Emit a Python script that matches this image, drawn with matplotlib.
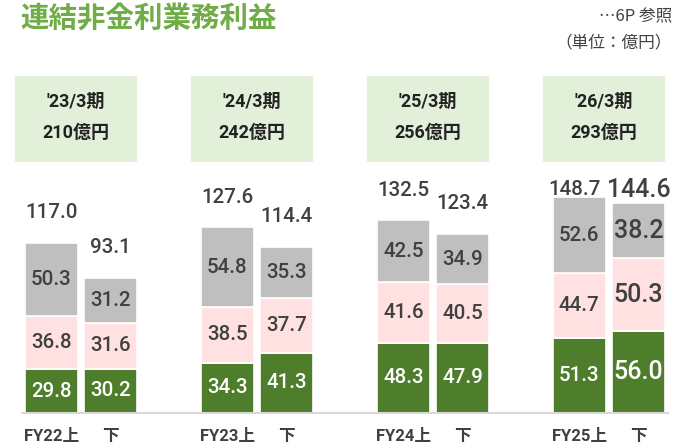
import matplotlib.pyplot as plt
import matplotlib.patches as mpatches
from matplotlib.transforms import blended_transform_factory
import numpy as np

plt.rcParams['font.family'] = ['Roboto', 'Noto Sans CJK JP', 'DejaVu Sans']

# data (億円)
periods = ["'23/3期", "'24/3期", "'25/3期", "'26/3期"]
period_totals = ["210億円", "242億円", "256億円", "293億円"]
cats = ["FY22上", "下", "FY23上", "下", "FY24上", "下", "FY25上", "下"]
green = [29.8, 30.2, 34.3, 41.3, 48.3, 47.9, 51.3, 56.0]
pink = [36.8, 31.6, 38.5, 37.7, 41.6, 40.5, 44.7, 50.3]
gray = [50.3, 31.2, 54.8, 35.3, 42.5, 34.9, 52.6, 38.2]
totals = [117.0, 93.1, 127.6, 114.4, 132.5, 123.4, 148.7, 144.6]

c_green = '#4e7d2c'
c_pink = '#ffe1e1'
c_gray = '#bfbfbf'
c_text = '#404040'

W, H = 679, 446
fig = plt.figure(figsize=(W / 100, H / 100), dpi=100)
base = 412.7
scale = 1.452  # px per unit
ymax = 160
ax = fig.add_axes([22 / W, (H - base) / H, (668 - 22) / W, ymax * scale / H])
ax.patch.set_alpha(0)

grp = np.arange(4)
xs = np.ravel(np.column_stack([grp - 0.168, grp + 0.168]))
bw = 0.30
g = np.array(green)
p = np.array(pink)
gr = np.array(gray)

ax.bar(xs, g, bw, color=c_green, edgecolor='white', linewidth=1.2)
ax.bar(xs, p, bw, bottom=g, color=c_pink, edgecolor='white', linewidth=1.2)
ax.bar(xs, gr, bw, bottom=g + p, color=c_gray, edgecolor='white', linewidth=1.2)

ax.set_xlim(-0.335, 3.336)
ax.set_ylim(0, ymax)
for s in ['top', 'right', 'left']:
    ax.spines[s].set_visible(False)
ax.spines['bottom'].set_color('#d9d9d9')
ax.spines['bottom'].set_linewidth(1.5)
ax.set_yticks([])
ax.set_xticks([])

cap = 153.4
for i, x in enumerate(xs):
    big = i == len(xs) - 1
    fs = 18 if big else 14.8
    wt = 'medium'
    ax.text(x, g[i] / 2, f'{g[i]:.1f}', ha='center', va='center', color='white',
            fontsize=fs, fontweight=wt)
    ax.text(x, g[i] + p[i] / 2, f'{p[i]:.1f}', ha='center', va='center', color=c_text,
            fontsize=fs, fontweight=wt)
    ax.text(x, g[i] + p[i] + gr[i] / 2, f'{gr[i]:.1f}', ha='center', va='center',
            color=c_text, fontsize=fs, fontweight=wt)
    ty = min(totals[i] + 30 / scale, cap)
    dx = -0.03 if i == len(xs) - 2 else 0
    ax.text(x + dx, ty, f'{totals[i]:.1f}', ha='center', va='center', color=c_text,
            fontsize=fs, fontweight=wt, clip_on=False)
    ax.text(x, -24 / scale, cats[i], ha='center', va='center', color=c_text,
            fontsize=12, fontweight='bold', clip_on=False)

# period boxes
tr = blended_transform_factory(ax.transData, fig.transFigure)
bx_w = 121.7 / 176
for k in range(4):
    cx = grp[k] - 5 / 176
    rect = mpatches.Rectangle((cx - bx_w / 2, (H - 161.7) / H), bx_w, 85.7 / H,
                              transform=tr, facecolor='#e2efd9', edgecolor='none',
                              clip_on=False, zorder=-1)
    fig.add_artist(rect)
    ax.text(cx, (H - 101.7) / H, periods[k], transform=tr, ha='center', va='center',
            fontsize=13, fontweight='bold', color='#222222')
    ax.text(cx, (H - 132.7) / H, period_totals[k], transform=tr, ha='center',
            va='center', fontsize=13, fontweight='bold', color='#222222')

fig.text(20 / W, (H - 19) / H, '連結非金利業務利益', fontsize=20.5, fontweight='bold',
         color='#70ad47', ha='left', va='center')
fig.text(672 / W, (H - 17) / H, '…6P 参照', fontsize=12, color=c_text,
         ha='right', va='center', family=['Noto Sans CJK JP', 'DejaVu Sans'])
fig.text(672 / W, (H - 42) / H, '（単位：億円）', fontsize=12, color=c_text,
         ha='right', va='center')

fig.savefig('out.png', dpi=100)
